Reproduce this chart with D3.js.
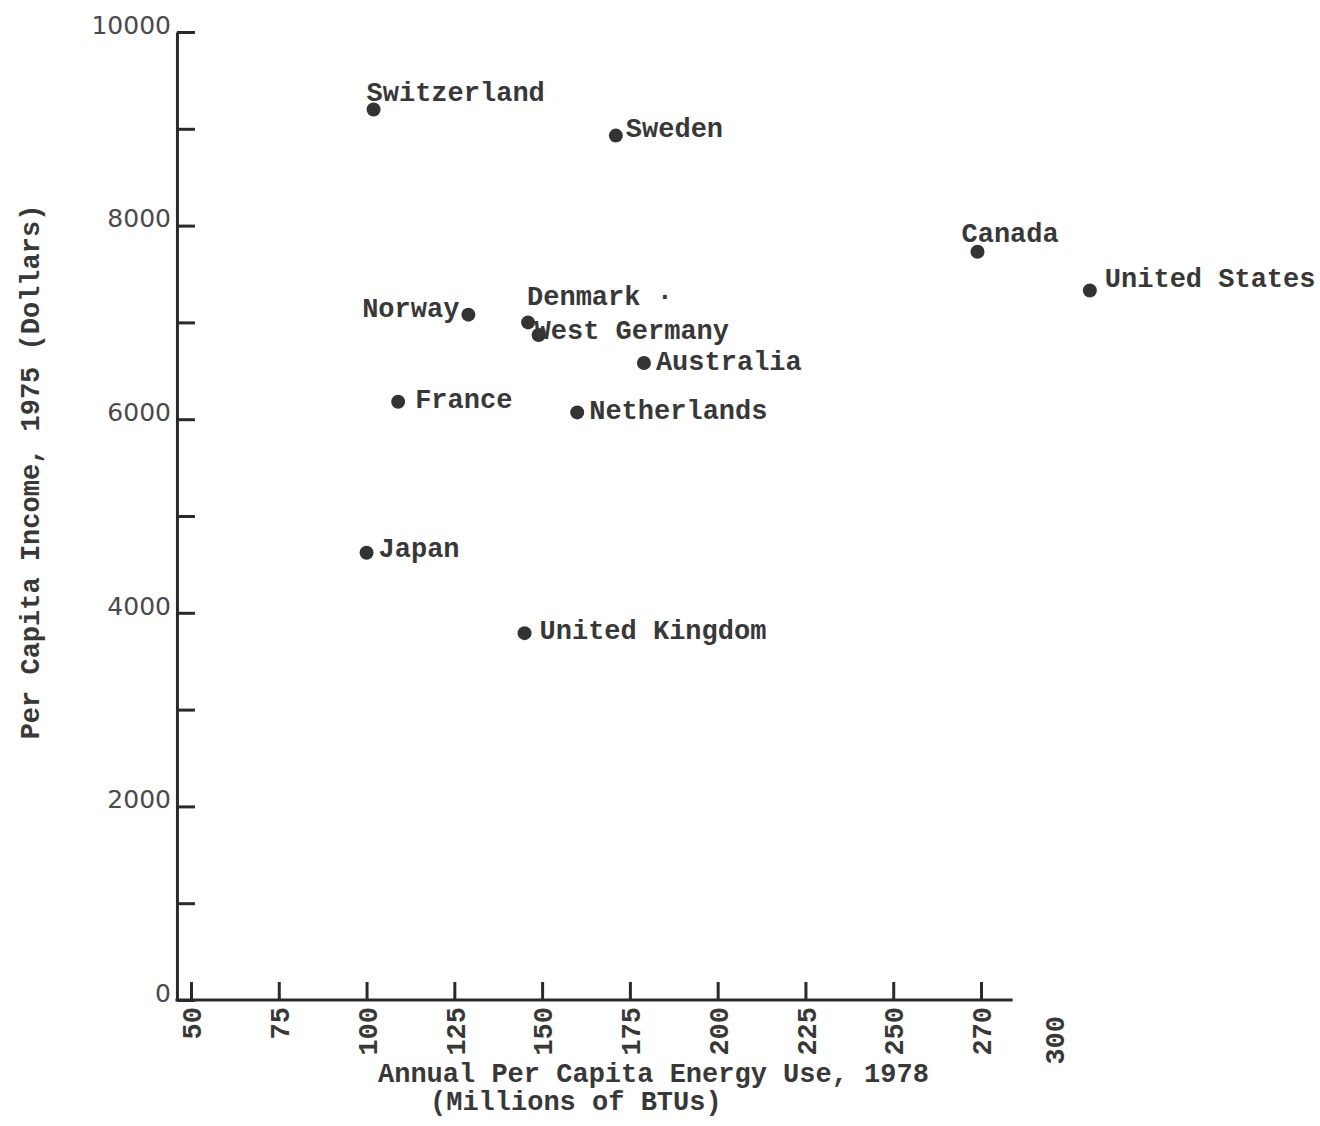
<!DOCTYPE html>
<html>
<head>
<meta charset="utf-8">
<script src="https://cdn.jsdelivr.net/npm/d3@7"></script>
<style>
  html, body { margin: 0; padding: 0; background: #fff; }
  svg { display: block; }
  .mono { font-family: "Liberation Mono", "Courier New", monospace; font-weight: bold; fill: #383838; }
</style>
</head>
<body>
<script>
// ---- data ----
const countries = ["Switzerland", "Sweden", "Canada", "United States", "Norway", "Denmark",
                   "West Germany", "Australia", "France", "Netherlands", "Japan", "United Kingdom"];
const energyUse = [102, 171, 274, 306, 129, 146, 149, 179, 109, 160, 100, 145];      // millions of BTUs, 1978
const income    = [9200, 8930, 7730, 7330, 7080, 7000, 6870, 6580, 6180, 6070, 4620, 3790]; // dollars, 1975
const pointLabels = ["Switzerland", "Sweden", "Canada", "United States", "Norway", "Denmark \u00b7",
                     "West Germany", "Australia", "France", "Netherlands", "Japan", "United Kingdom"];

const xTickValues = [50, 75, 100, 125, 150, 175, 200, 225, 250, 275];
const xTickLabels = ["50", "75", "100", "125", "150", "175", "200", "225", "250", "270"];
const xExtraLabelValue = 296, xExtraLabel = "300";
const yTickValues = [0, 1000, 2000, 3000, 4000, 5000, 6000, 7000, 8000, 9000, 10000];
const yTickLabels = ["0", "", "2000", "", "4000", "", "6000", "", "8000", "", "10000"];

const xTitle1 = "Annual Per Capita Energy Use, 1978";
const xTitle2 = "(Millions of BTUs)";
const yTitle  = "Per Capita Income, 1975 (Dollars)";

// ---- layout ----
const W = 1320, H = 1126;
const FS = "27px";
const svg = d3.select("body").append("svg").attr("width", W).attr("height", H);

const x = d3.scaleLinear().domain([50, 275]).range([191, 981]);
const y = d3.scaleLinear().domain([0, 10000]).range([1000, 32]);
const xOrigin = 46, xEnd = 284;

const ink = "#2a2a2a";

// Y axis
const yAxis = d3.axisLeft(y).tickValues(yTickValues)
  .tickFormat((d, i) => yTickLabels[i]).tickSizeInner(-18).tickSizeOuter(0).tickPadding(6);
const gy = svg.append("g").attr("transform", `translate(${x(xOrigin)},0)`).call(yAxis);
gy.select(".domain").attr("stroke", ink).attr("stroke-width", 3);
gy.selectAll(".tick line").attr("stroke", ink).attr("stroke-width", 3);
gy.selectAll(".tick text")
  .attr("dy", "0.05em")
  .style("font-family", "'DejaVu Sans', sans-serif")
  .style("font-size", "25px")
  .attr("fill", "#4a4a4a");

// X axis
const xAxis = d3.axisBottom(x).tickValues(xTickValues)
  .tickFormat((d, i) => xTickLabels[i]).tickSizeInner(-18).tickSizeOuter(0).tickPadding(6);
const gx = svg.append("g").attr("transform", `translate(0,${y(0)})`).call(xAxis);
gx.select(".domain").remove();
gx.append("line").attr("x1", x(xOrigin) - 1.5).attr("x2", x(xEnd)).attr("y1", 0).attr("y2", 0)
  .attr("stroke", ink).attr("stroke-width", 3);
gx.selectAll(".tick line").attr("stroke", ink).attr("stroke-width", 3);
gx.selectAll(".tick text")
  .attr("class", "mono")
  .attr("transform", "rotate(-90)")
  .attr("x", -7).attr("y", 0).attr("dy", "0.36em")
  .style("text-anchor", "end")
  .style("font-size", FS);
gx.append("text").attr("class", "mono")
  .attr("transform", `translate(${x(xExtraLabelValue)},0) rotate(-90)`)
  .attr("x", -16).attr("y", 0).attr("dy", "0.36em")
  .style("text-anchor", "end").style("font-size", FS)
  .text(xExtraLabel);

// axis titles
svg.append("text").attr("class", "mono").attr("x", 378).attr("y", 1082)
  .style("font-size", FS).text(xTitle1);
svg.append("text").attr("class", "mono").attr("x", 430).attr("y", 1110)
  .style("font-size", FS).text(xTitle2);
svg.append("text").attr("class", "mono")
  .attr("transform", `translate(30,472) rotate(-90)`)
  .attr("text-anchor", "middle").attr("dy", "0.35em")
  .style("font-size", FS).text(yTitle);

// points
const data = countries.map((c, i) => ({ name: c, label: pointLabels[i], ex: energyUse[i], inc: income[i] }));
// label placement offsets (dx, dy relative to point, anchor)
const labelPos = {
  "Switzerland":    [-7, -8, "start"],
  "Sweden":         [10, 1, "start"],
  "Canada":         [-16, -10, "start"],
  "United States":  [15, -3, "start"],
  "Norway":         [-9, 2, "end"],
  "Denmark":        [-1, -17, "start"],
  "West Germany":   [-4, 4, "start"],
  "Australia":      [12, 7, "start"],
  "France":         [17, 6, "start"],
  "Netherlands":    [12, 7, "start"],
  "Japan":          [12, 4, "start"],
  "United Kingdom": [15, 6, "start"]
};

svg.append("g").selectAll("circle").data(data).join("circle")
  .attr("cx", d => x(d.ex)).attr("cy", d => y(d.inc)).attr("r", 7)
  .attr("fill", "#333");

svg.append("g").selectAll("text").data(data).join("text")
  .attr("class", "mono")
  .attr("x", d => x(d.ex) + labelPos[d.name][0])
  .attr("y", d => y(d.inc) + labelPos[d.name][1])
  .attr("text-anchor", d => labelPos[d.name][2])
  .style("font-size", FS)
  .text(d => d.label);
</script>
</body>
</html>
